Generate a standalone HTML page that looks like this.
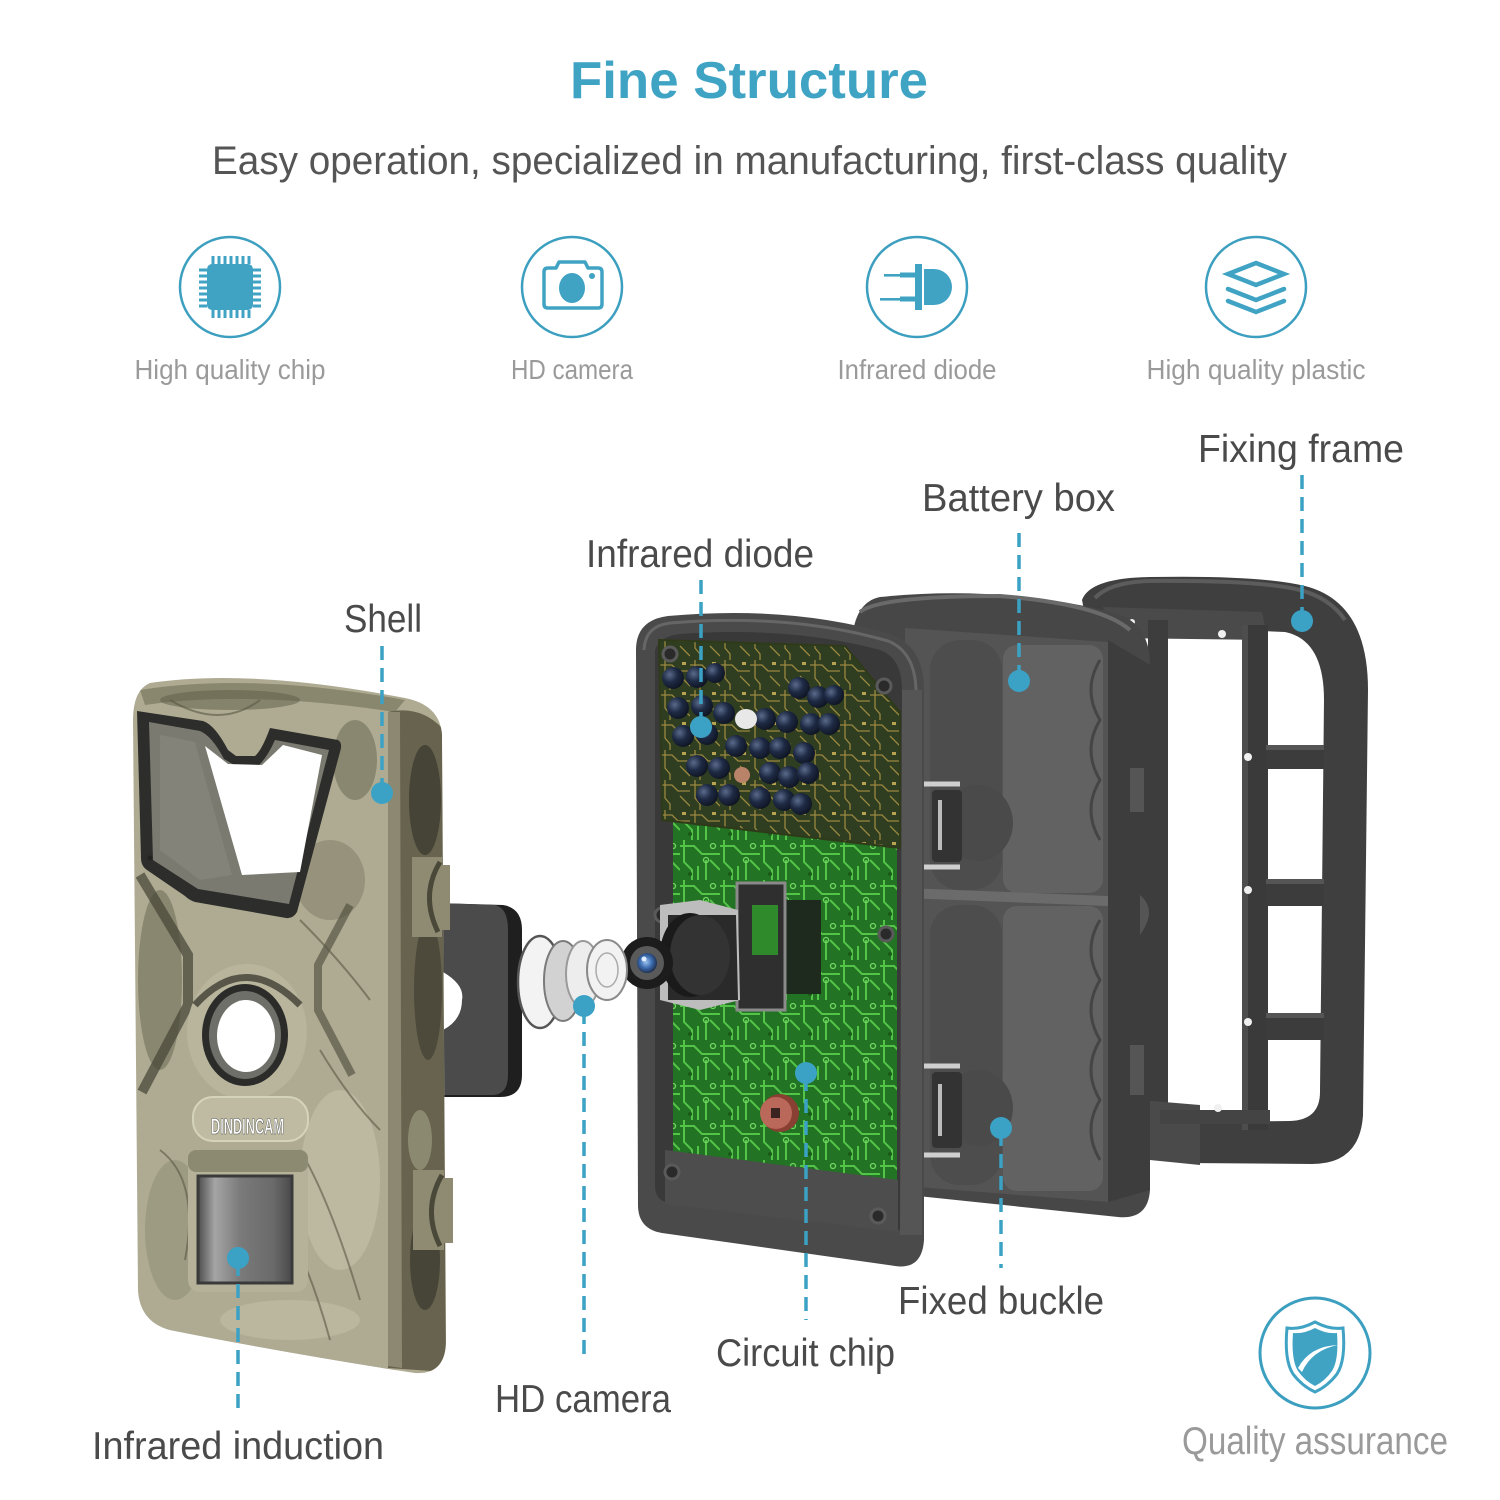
<!DOCTYPE html>
<html><head><meta charset="utf-8"><style>
html,body{margin:0;padding:0;background:#fff;}
svg{display:block;}
text{font-family:"Liberation Sans Narrow","Liberation Sans",sans-serif;}
</style></head><body>
<svg width="1500" height="1500" viewBox="0 0 1500 1500" xmlns="http://www.w3.org/2000/svg">
<defs>
  <clipPath id="shellClip">
    <path d="M150,683 Q250,668 405,698 Q440,705 442,735 L446,1340 Q446,1375 415,1373 L395,1370 Q270,1350 170,1330 Q140,1322 138,1290 L133,720 Q133,690 150,683 Z"/>
  </clipPath>
  <pattern id="pcbGreen" width="40" height="40" patternUnits="userSpaceOnUse">
    <rect width="40" height="40" fill="#237324"/>
    <path d="M0,6 L14,6 L22,14 L40,14 M4,0 L4,22 L12,30 L12,40 M26,20 L26,40 M30,20 L40,30 M18,26 L18,40" stroke="#53c447" stroke-width="2" fill="none"/>
    <circle cx="26" cy="20" r="2.5" fill="none" stroke="#6fd85f" stroke-width="1.3"/>
    <circle cx="33" cy="6" r="2.5" fill="none" stroke="#6fd85f" stroke-width="1.3"/>
    <circle cx="10" cy="34" r="2" fill="#1a5a1a"/>
  </pattern>
  <pattern id="pcbGold" width="30" height="30" patternUnits="userSpaceOnUse">
    <rect width="30" height="30" fill="#2f3e20"/>
    <path d="M0,5 L12,5 L18,11 L30,11 M5,0 L5,18 L10,24 L10,30 M20,16 L30,26" stroke="#9a8740" stroke-width="1.3" fill="none"/>
    <rect x="22" y="2" width="4" height="3" fill="#b8a352"/>
  </pattern>
  <linearGradient id="pir" x1="0" x2="1" y1="0" y2="0">
    <stop offset="0" stop-color="#4e4e4e"/>
    <stop offset="0.18" stop-color="#a5a5a5"/>
    <stop offset="0.45" stop-color="#7a7a7a"/>
    <stop offset="0.8" stop-color="#6a6a6a"/>
    <stop offset="1" stop-color="#4a4a4a"/>
  </linearGradient>
  <radialGradient id="led" cx="0.35" cy="0.35" r="0.7">
    <stop offset="0" stop-color="#5a6a8a"/>
    <stop offset="0.5" stop-color="#1e2a44"/>
    <stop offset="1" stop-color="#0e1422"/>
  </radialGradient>
  <radialGradient id="lensBlue" cx="0.45" cy="0.45" r="0.6">
    <stop offset="0" stop-color="#9fc4ee"/>
    <stop offset="0.5" stop-color="#3c6cb0"/>
    <stop offset="1" stop-color="#1b2740"/>
  </radialGradient>
</defs>

<!-- Header -->
<text x="570" y="98" font-size="52" font-weight="bold" fill="#3fa3c4" textLength="358" lengthAdjust="spacingAndGlyphs">Fine Structure</text>
<text x="212" y="174" font-size="40" fill="#555555" textLength="1075" lengthAdjust="spacingAndGlyphs">Easy operation, specialized in manufacturing, first-class quality</text>

<!-- Icon 1 chip -->
<circle cx="230" cy="287" r="50" fill="none" stroke="#3c9fc0" stroke-width="2.5"/>
<g fill="#40a3c4">
  <rect x="207" y="264" width="46" height="46" rx="5"/>
  <g stroke="#40a3c4" stroke-width="3">
    <path d="M213,256 v8 M219,256 v8 M225,256 v8 M231,256 v8 M237,256 v8 M243,256 v8 M249,256 v8"/>
    <path d="M213,310 v8 M219,310 v8 M225,310 v8 M231,310 v8 M237,310 v8 M243,310 v8 M249,310 v8"/>
    <path d="M199,270 h8 M199,276 h8 M199,282 h8 M199,288 h8 M199,294 h8 M199,300 h8 M199,306 h8"/>
    <path d="M253,270 h8 M253,276 h8 M253,282 h8 M253,288 h8 M253,294 h8 M253,300 h8 M253,306 h8"/>
  </g>
</g>
<text x="230" y="379" font-size="28" fill="#9a9a9a" text-anchor="middle" textLength="191" lengthAdjust="spacingAndGlyphs">High quality chip</text>

<!-- Icon 2 camera -->
<circle cx="572" cy="287" r="50" fill="none" stroke="#3c9fc0" stroke-width="2.5"/>
<path d="M544,272 Q544,268 548,268 L556,268 L559,262 L585,262 L588,268 L598,268 Q602,268 602,272 L602,304 Q602,308 598,308 L548,308 Q544,308 544,304 Z" fill="none" stroke="#40a3c4" stroke-width="3.5" stroke-linejoin="round"/>
<ellipse cx="572" cy="288" rx="13" ry="15" fill="#40a3c4"/>
<circle cx="592" cy="276" r="3" fill="#40a3c4"/>
<text x="572" y="379" font-size="28" fill="#9a9a9a" text-anchor="middle" textLength="122" lengthAdjust="spacingAndGlyphs">HD camera</text>

<!-- Icon 3 diode -->
<circle cx="917" cy="287" r="50" fill="none" stroke="#3c9fc0" stroke-width="2.5"/>
<g fill="#40a3c4">
  <rect x="915" y="264" width="7" height="46"/>
  <path d="M924,269 L934,269 A18,18 0 0 1 934,305 L924,305 Z"/>
  <rect x="884" y="274" width="22" height="2.6"/>
  <rect x="900" y="272.5" width="15" height="5"/>
  <rect x="880" y="298" width="26" height="2.6"/>
  <rect x="900" y="296.5" width="15" height="5"/>
</g>
<text x="917" y="379" font-size="28" fill="#9a9a9a" text-anchor="middle" textLength="159" lengthAdjust="spacingAndGlyphs">Infrared diode</text>

<!-- Icon 4 layers -->
<circle cx="1256" cy="287" r="50" fill="none" stroke="#3c9fc0" stroke-width="2.5"/>
<g fill="none" stroke="#40a3c4" stroke-width="4.5" stroke-linejoin="miter" stroke-linecap="round">
  <path d="M1256,263 L1284,274 L1256,285 L1228,274 Z"/>
  <path d="M1228,289 L1256,300 L1284,289"/>
  <path d="M1228,301 L1256,312 L1284,301"/>
</g>
<text x="1256" y="379" font-size="28" fill="#9a9a9a" text-anchor="middle" textLength="219" lengthAdjust="spacingAndGlyphs">High quality plastic</text>

<!-- ============ FIXING FRAME ============ -->
<g>
  <path d="M1082,600 Q1090,578 1150,577 Q1260,575 1305,586 Q1368,602 1368,690 L1363,1115 Q1360,1164 1312,1164 L1185,1163 L1185,1122 L1290,1121 Q1320,1120 1320,1092 L1324,700 Q1324,640 1285,632 L1150,626 Q1110,624 1090,640 Z" fill="#3f3f3f"/>
  <path d="M1095,598 Q1110,582 1150,581 Q1260,580 1300,590 Q1330,598 1345,620" fill="none" stroke="#5c5c5c" stroke-width="4"/>
  <path d="M1103,607 L1262,612 L1268,640 L1110,638 Z" fill="#4a4a4a"/>
  <rect x="1242" y="625" width="26" height="505" fill="#3a3a3a"/>
  <rect x="1242" y="625" width="6" height="505" fill="#4d4d4d"/>
  <rect x="1266" y="745" width="58" height="24" fill="#3c3c3c"/>
  <rect x="1266" y="879" width="58" height="27" fill="#3c3c3c"/>
  <rect x="1266" y="1013" width="58" height="27" fill="#3c3c3c"/>
  <rect x="1266" y="745" width="58" height="5" fill="#555"/>
  <rect x="1266" y="879" width="58" height="5" fill="#555"/>
  <rect x="1266" y="1013" width="58" height="5" fill="#555"/>
  <rect x="1148" y="620" width="20" height="530" fill="#3d3d3d"/>
  <path d="M1140,1100 L1200,1105 L1200,1165 L1150,1160 Z" fill="#4a4a4a"/>
  <rect x="1160" y="1110" width="110" height="14" fill="#444"/>
  <g fill="#f0f0f0">
    <circle cx="1248" cy="757" r="4"/>
    <circle cx="1248" cy="890" r="4"/>
    <circle cx="1248" cy="1022" r="4"/>
    <circle cx="1218" cy="1108" r="4"/>
    <circle cx="1222" cy="634" r="4"/>
    <circle cx="1132" cy="622" r="3"/>
  </g>
</g>

<!-- ============ BATTERY BOX ============ -->
<g>
  <path d="M852,640 Q855,602 880,597 Q1000,585 1112,612 Q1150,622 1150,665 L1150,1190 Q1148,1220 1118,1217 L860,1190 Z" fill="#474747"/>
  <path d="M860,612 Q880,596 1000,596 Q1100,604 1130,630" fill="none" stroke="#6a6a6a" stroke-width="4"/>
  <path d="M905,628 L1108,642 L1108,1202 L905,1186 Z" fill="#545454"/>
  <rect x="930" y="640" width="72" height="250" rx="30" fill="#4d4d4d"/>
  <rect x="930" y="905" width="72" height="280" rx="30" fill="#4d4d4d"/>
  <rect x="1003" y="645" width="100" height="248" rx="14" fill="#626262"/>
  <rect x="1003" y="906" width="100" height="285" rx="14" fill="#626262"/>
  <g fill="none" stroke="#454545" stroke-width="3">
    <path d="M1100,660 q-18,30 0,60 q-18,30 0,60 q-18,30 0,60"/>
    <path d="M1100,920 q-18,30 0,60 q-18,30 0,60 q-18,30 0,60 q-18,30 0,60"/>
  </g>
  <path d="M905,888 L1108,896 L1108,906 L905,898 Z" fill="#6b6b6b"/>
  <path d="M1108,640 L1150,665 L1150,1190 L1108,1202 Z" fill="#3d3d3d"/>
  <rect x="1130" y="768" width="14" height="44" fill="#555"/>
  <rect x="1130" y="1045" width="14" height="50" fill="#555"/>
  <path d="M1140,895 q18,15 0,40" fill="#555"/>
</g>

<!-- clips -->
<g>
  <ellipse cx="978" cy="823" rx="35" ry="38" fill="#4a4a4a"/>
  <rect x="932" y="790" width="30" height="72" rx="4" fill="#333"/>
  <path d="M960,784 L916,784 Q903,786 903,800 L903,852 Q903,866 916,867 L960,867" fill="none" stroke="#cfcfcf" stroke-width="5"/>
  <rect x="938" y="800" width="4" height="50" fill="#bbb"/>
  <ellipse cx="978" cy="1108" rx="35" ry="38" fill="#4a4a4a"/>
  <rect x="932" y="1072" width="30" height="76" rx="4" fill="#333"/>
  <path d="M960,1066 L916,1066 Q903,1068 903,1082 L903,1140 Q903,1154 916,1155 L960,1155" fill="none" stroke="#cfcfcf" stroke-width="5"/>
  <rect x="938" y="1084" width="4" height="52" fill="#bbb"/>
</g>

<!-- ============ FRONT HOUSING (open) ============ -->
<g>
  <path d="M636,650 Q636,620 668,616 Q790,605 890,634 Q924,646 924,690 L924,1240 Q922,1270 895,1266 L662,1233 Q638,1229 638,1205 Z" fill="#4a4a4a"/>
  <path d="M644,650 Q645,626 670,623 Q790,613 888,641 Q915,652 916,690" fill="none" stroke="#666" stroke-width="3"/>
  <rect x="900" y="690" width="22" height="545" fill="#555"/>
  <path d="M655,650 Q660,636 680,634 Q790,626 880,650 Q902,658 902,690 L900,1230 L665,1202 Q655,1198 655,1186 Z" fill="#393939"/>
  <path d="M673,805 L897,830 L897,1190 L673,1160 Z" fill="url(#pcbGreen)"/>
  <path d="M659,640 L845,646 L900,712 L900,848 L662,820 Z" fill="url(#pcbGold)"/>
  <path d="M659,640 L845,646 L900,712 L900,848 L662,820 Z" fill="none" stroke="#2e3a1a" stroke-width="2"/>
  <path d="M665,1150 L898,1180 L898,1232 L665,1204 Z" fill="#4d4d4d"/>
  <g fill="#2a2a2a" stroke="#5a5a5a" stroke-width="3">
    <circle cx="670" cy="654" r="7"/>
    <circle cx="884" cy="686" r="7"/>
    <circle cx="672" cy="1172" r="7"/>
    <circle cx="878" cy="1216" r="7"/>
    <circle cx="886" cy="934" r="7"/>
    <circle cx="662" cy="915" r="7"/>
  </g>
  <g fill="url(#led)">
    <circle cx="673" cy="678" r="11"/><circle cx="697" cy="677" r="11"/><circle cx="715" cy="673" r="10"/>
    <circle cx="799" cy="688" r="11"/><circle cx="818" cy="697" r="11"/><circle cx="834" cy="695" r="10"/>
    <circle cx="678" cy="708" r="11"/><circle cx="702" cy="706" r="11"/><circle cx="724" cy="713" r="11"/>
    <circle cx="765" cy="719" r="11"/><circle cx="787" cy="722" r="11"/><circle cx="811" cy="724" r="11"/><circle cx="829" cy="724" r="11"/>
    <circle cx="683" cy="736" r="11"/><circle cx="707" cy="734" r="11"/><circle cx="736" cy="746" r="11"/>
    <circle cx="760" cy="748" r="11"/><circle cx="780" cy="748" r="11"/><circle cx="804" cy="753" r="11"/>
    <circle cx="697" cy="766" r="11"/><circle cx="719" cy="768" r="11"/><circle cx="770" cy="773" r="11"/>
    <circle cx="789" cy="777" r="11"/><circle cx="808" cy="773" r="11"/>
    <circle cx="707" cy="795" r="11"/><circle cx="729" cy="795" r="11"/><circle cx="760" cy="798" r="11"/>
    <circle cx="784" cy="800" r="11"/><circle cx="801" cy="804" r="11"/>
  </g>
  <ellipse cx="746" cy="719" rx="11" ry="10" fill="#e8e8e8"/>
  <circle cx="742" cy="775" r="8" fill="#b9836a"/>
  <rect x="783" y="900" width="38" height="94" fill="#1f2a1f"/>
  <rect x="737" y="883" width="48" height="127" fill="#2f2f2f" stroke="#8a8a8a" stroke-width="3"/>
  <rect x="752" y="905" width="26" height="50" fill="#2e8a2a"/>
  <path d="M660,905 L700,900 L738,910 L740,1000 L700,1010 L660,1000 Z" fill="#bdbdbd"/>
  <path d="M668,915 L736,915 L738,1000 L668,1000 Z" fill="#2a2a2a"/>
  <ellipse cx="690" cy="955" rx="30" ry="42" fill="#1a1a1a"/>
  <ellipse cx="700" cy="955" rx="30" ry="40" fill="#333"/>
  <circle cx="647" cy="963" r="26" fill="#1c1c1c"/>
  <circle cx="647" cy="963" r="17" fill="#5a5a5a"/>
  <circle cx="647" cy="963" r="10" fill="url(#lensBlue)"/>
  <circle cx="644" cy="959" r="2.5" fill="#e0ecff"/>
  <circle cx="780" cy="1113" r="19" fill="#8a3f33"/>
  <circle cx="776" cy="1113" r="16" fill="#b9685a"/>
  <rect x="771" y="1108" width="9" height="10" fill="#3a2320"/>
</g>

<!-- ============ GASKET & LENSES ============ -->
<g>
  <path d="M435,903 L503,905 Q522,908 522,930 L522,1075 Q522,1097 500,1097 L435,1097 Z" fill="#1f1f1f"/>
  <path d="M435,903 L495,905 Q508,908 508,930 L508,1075 Q508,1095 492,1095 L435,1095 Z" fill="#4b4b4b"/>
  <path d="M443,972 Q465,985 462,1000 Q462,1020 443,1030 Z" fill="#ffffff"/>
  <ellipse cx="540" cy="982" rx="22" ry="46" fill="#f3f3f3" stroke="#555" stroke-width="2.5"/>
  <ellipse cx="563" cy="981" rx="19" ry="40" fill="#d2d2d2" stroke="#7a7a7a" stroke-width="2"/>
  <ellipse cx="583" cy="974" rx="17" ry="33" fill="#ededed" stroke="#9a9a9a" stroke-width="2"/>
  <ellipse cx="607" cy="970" rx="20" ry="30" fill="#f2f2f2" stroke="#8a8a8a" stroke-width="2"/>
  <ellipse cx="607" cy="970" rx="11" ry="17" fill="none" stroke="#aaa" stroke-width="1.5"/>
</g>

<!-- ============ SHELL ============ -->
<g>
  <path d="M150,683 Q250,668 405,698 Q440,705 442,735 L446,1340 Q446,1375 415,1373 L395,1370 Q270,1350 170,1330 Q140,1322 138,1290 L133,720 Q133,690 150,683 Z" fill="#aeab92"/>
  <g clip-path="url(#shellClip)">
    <path d="M140,690 Q250,672 405,700 L395,712 Q250,690 145,705 Z" fill="#8a876f"/>
    <path d="M388,712 Q420,705 442,728 L446,1372 L388,1368 Z" fill="#67634e"/>
    <path d="M388,712 L400,712 L402,1368 L388,1366 Z" fill="#8c8871"/>
    <ellipse cx="425" cy="800" rx="16" ry="55" fill="#3a392f" opacity="0.75"/>
    <ellipse cx="428" cy="990" rx="14" ry="70" fill="#3f3e33" opacity="0.65"/>
    <ellipse cx="425" cy="1260" rx="15" ry="50" fill="#3a392f" opacity="0.7"/>
    <ellipse cx="420" cy="1140" rx="12" ry="30" fill="#9d9a80" opacity="0.7"/>
    <ellipse cx="160" cy="980" rx="22" ry="90" fill="#5d5b48" opacity="0.45"/>
    <ellipse cx="175" cy="1230" rx="30" ry="70" fill="#8e8b73" opacity="0.5"/>
    <ellipse cx="340" cy="1180" rx="40" ry="90" fill="#c6c3aa" opacity="0.6"/>
    <ellipse cx="330" cy="880" rx="35" ry="40" fill="#7d7a64" opacity="0.5"/>
    <ellipse cx="290" cy="1320" rx="70" ry="20" fill="#c3c0a6" opacity="0.6"/>
    <ellipse cx="230" cy="700" rx="70" ry="10" fill="#5d5b48" opacity="0.5"/>
    <ellipse cx="355" cy="760" rx="22" ry="40" fill="#5d5b48" opacity="0.45"/>
    <ellipse cx="160" cy="760" rx="15" ry="40" fill="#6e6b57" opacity="0.4"/>
    <path d="M140,875 L188,955 L188,1005 L142,1092" fill="none" stroke="#4a4839" stroke-width="10" opacity="0.75"/>
    <path d="M350,905 L318,965 L318,1010 L352,1075" fill="none" stroke="#4a4839" stroke-width="8" opacity="0.6"/>
    <g fill="none" stroke="#5a5845" stroke-width="2" opacity="0.6">
      <path d="M300,1150 Q330,1200 360,1300"/>
      <path d="M250,1170 Q300,1230 330,1340"/>
      <path d="M320,1050 Q350,1100 380,1130"/>
      <path d="M160,1150 Q200,1180 185,1260"/>
      <path d="M170,700 Q220,730 260,700"/>
      <path d="M300,920 Q340,960 370,1000"/>
    </g>
    <path d="M138,1290 Q140,1322 170,1330 Q270,1350 395,1370 L395,1378 L140,1340 Z" fill="#4a4839" opacity="0.7"/>
  </g>
  <path d="M137,711 L203,721 Q215,725 228,750 L236,756 L255,756 Q262,750 270,728 L338,740 Q343,743 340,752 L297,912 Q293,919 286,918 L195,902 Q189,900 185,896 L147,870 Q141,866 141,858 Z" fill="#2d2d2b"/>
  <path d="M149,722 L200,731 Q212,736 224,759 L236,766 L258,766 Q267,758 275,740 L329,750 L289,904 L198,889 L153,860 Z" fill="#7b7a70"/>
  <path d="M205,746 L228,764 L262,765 L283,745 L322,755 L300,872 L242,875 Z" fill="#ffffff"/>
  <path d="M160,735 L195,742 L232,875 L200,880 L160,850 Z" fill="#8a897e" opacity="0.6"/>
  <ellipse cx="247" cy="1032" rx="60" ry="68" fill="#b8b59c"/>
  <path d="M195,1005 Q245,950 300,1005" fill="none" stroke="#3f3e33" stroke-width="7" opacity="0.8"/>
  <ellipse cx="245" cy="1035" rx="43" ry="51" fill="#2b2b29"/>
  <ellipse cx="245" cy="1035" rx="36" ry="44" fill="#6f6f69"/>
  <ellipse cx="246" cy="1036" rx="29" ry="36" fill="#ffffff"/>
  <rect x="193" y="1097" width="115" height="44" rx="20" fill="#bebba2" stroke="#d6d3bb" stroke-width="2"/>
  <text x="211" y="1134" font-size="22" font-weight="bold" fill="#ffffff" stroke="#555" stroke-width="0.6" textLength="73" lengthAdjust="spacingAndGlyphs" font-family="Liberation Sans, sans-serif">DINDINCAM</text>
  <rect x="188" y="1150" width="120" height="142" rx="12" fill="#b5b299"/>
  <rect x="188" y="1150" width="120" height="22" rx="8" fill="#8d8a72"/>
  <rect x="198" y="1176" width="94" height="107" fill="url(#pir)"/>
  <rect x="198" y="1176" width="94" height="107" fill="none" stroke="#3a3a3a" stroke-width="3"/>
  <path d="M412,857 L442,857 L442,865 L450,865 L450,930 L442,930 L442,937 L412,937 Z" fill="#8f8b72"/>
  <path d="M440,862 Q420,895 438,932" fill="none" stroke="#4a4839" stroke-width="5"/>
  <path d="M413,1170 L444,1170 L444,1178 L453,1178 L453,1243 L444,1243 L444,1250 L413,1250 Z" fill="#8f8b72"/>
  <path d="M442,1175 Q422,1210 440,1246" fill="none" stroke="#4a4839" stroke-width="5"/>
  <circle cx="150" cy="858" r="2.5" fill="#222"/>
</g>

<!-- ============ CONNECTORS ============ -->
<g stroke="#3ba2c5" stroke-width="3.5" stroke-dasharray="14 8" fill="none">
  <line x1="382" y1="646" x2="382" y2="790"/>
  <line x1="238" y1="1262" x2="238" y2="1412"/>
  <line x1="584" y1="1010" x2="584" y2="1362"/>
  <line x1="701" y1="580" x2="701" y2="724"/>
  <line x1="806" y1="1077" x2="806" y2="1320"/>
  <line x1="1019" y1="533" x2="1019" y2="678"/>
  <line x1="1001" y1="1132" x2="1001" y2="1268"/>
  <line x1="1302" y1="475" x2="1302" y2="618"/>
</g>
<g fill="#3ba2c5">
  <circle cx="382" cy="793" r="11"/>
  <circle cx="238" cy="1258" r="11"/>
  <circle cx="584" cy="1006" r="11"/>
  <circle cx="701" cy="727" r="11"/>
  <circle cx="806" cy="1073" r="11"/>
  <circle cx="1019" cy="681" r="11"/>
  <circle cx="1001" cy="1128" r="11"/>
  <circle cx="1302" cy="621" r="11"/>
</g>

<!-- ============ LABELS ============ -->
<g font-size="39" fill="#4a4a4a">
  <text x="1198" y="462" textLength="206" lengthAdjust="spacingAndGlyphs">Fixing frame</text>
  <text x="922" y="511" textLength="193" lengthAdjust="spacingAndGlyphs">Battery box</text>
  <text x="586" y="567" textLength="228" lengthAdjust="spacingAndGlyphs">Infrared diode</text>
  <text x="344" y="632" textLength="78" lengthAdjust="spacingAndGlyphs">Shell</text>
  <text x="898" y="1314" textLength="206" lengthAdjust="spacingAndGlyphs">Fixed buckle</text>
  <text x="716" y="1366" textLength="179" lengthAdjust="spacingAndGlyphs">Circuit chip</text>
  <text x="495" y="1412" textLength="176" lengthAdjust="spacingAndGlyphs">HD camera</text>
  <text x="92" y="1459" textLength="292" lengthAdjust="spacingAndGlyphs">Infrared induction</text>
</g>

<!-- Quality assurance -->
<circle cx="1315" cy="1353" r="55" fill="none" stroke="#3c9fc0" stroke-width="3"/>
<path d="M1287,1328 Q1300,1330 1315,1322 Q1330,1330 1343,1328 Q1346,1360 1337,1374 Q1328,1386 1315,1392 Q1302,1386 1293,1374 Q1284,1360 1287,1328 Z" fill="none" stroke="#40a3c4" stroke-width="3"/>
<path d="M1293,1333 Q1304,1334 1315,1328 Q1326,1334 1337,1333 Q1339,1360 1332,1371 Q1325,1381 1315,1386 Q1305,1381 1298,1371 Q1291,1360 1293,1333 Z" fill="#40a3c4"/>
<path d="M1298,1368 Q1310,1346 1338,1345 Q1312,1350 1302,1372 Z" fill="#ffffff"/>
<text x="1182" y="1454" font-size="39" fill="#9a9a9a" textLength="266" lengthAdjust="spacingAndGlyphs">Quality assurance</text>
</svg>
</body></html>
